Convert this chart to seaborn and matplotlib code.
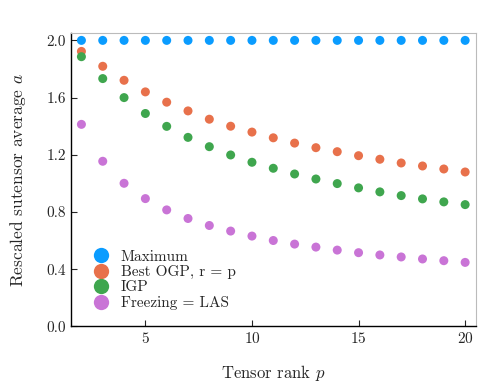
import numpy as np
import pandas as pd
import seaborn as sns
import matplotlib.pyplot as plt

# Tensor rank p
ranks = list(range(2, 21))

maximum = [2.0] * 19
best_ogp = [1.923, 1.819, 1.721, 1.640, 1.568, 1.507, 1.449, 1.400, 1.359, 1.319,
            1.282, 1.250, 1.222, 1.194, 1.169, 1.143, 1.122, 1.101, 1.080]
igp = [1.886, 1.733, 1.600, 1.489, 1.399, 1.322, 1.257, 1.199, 1.148, 1.106,
       1.066, 1.031, 0.999, 0.969, 0.941, 0.915, 0.892, 0.871, 0.852]
freezing = [1.413, 1.155, 1.001, 0.894, 0.815, 0.755, 0.706, 0.667, 0.632, 0.601,
            0.576, 0.555, 0.534, 0.516, 0.500, 0.486, 0.472, 0.460, 0.448]

series_names = ["Maximum", "Best OGP, r = p", "IGP", "Freezing = LAS"]
series_colors = ["#0a9cff", "#e8714b", "#3fa64e", "#c974d6"]

df = pd.DataFrame({
    "p": ranks * 4,
    "a": maximum + best_ogp + igp + freezing,
    "series": [n for n in series_names for _ in ranks],
})

sns.set_style("ticks")
plt.rcParams["font.family"] = "serif"
plt.rcParams["font.serif"] = ["cmr10", "DejaVu Serif"]
plt.rcParams["mathtext.fontset"] = "cm"
plt.rcParams["axes.formatter.use_mathtext"] = True

fig, ax = plt.subplots(figsize=(4.88, 3.91), dpi=100)
fig.subplots_adjust(left=0.145, right=0.975, top=0.915, bottom=0.165)

sns.scatterplot(data=df, x="p", y="a", hue="series", hue_order=series_names,
                palette=series_colors, s=42, linewidth=0, ax=ax)

ax.set_xlim(1.5, 20.5)
ax.set_ylim(0.0, 2.05)
ax.set_xticks([5, 10, 15, 20])
ax.set_yticks([0.0, 0.4, 0.8, 1.2, 1.6, 2.0])
ax.set_yticklabels(["0.0", "0.4", "0.8", "1.2", "1.6", "2.0"])
ax.set_xlabel("Tensor rank $p$", fontsize=12, labelpad=12)
ax.set_ylabel("Rescaled sutensor average $a$", fontsize=12.5, labelpad=13)
ax.tick_params(direction="in", labelsize=11, length=4, width=0.8)

for side in ["top", "right"]:
    ax.spines[side].set_color("#bbbbbb")
for side in ["left", "bottom"]:
    ax.spines[side].set_color("black")
    ax.spines[side].set_linewidth(1.0)

leg = ax.legend(loc="lower left", bbox_to_anchor=(0.01, 0.02), frameon=False,
                fontsize=11, markerscale=1.7, handletextpad=0.3,
                labelspacing=0.1, borderaxespad=0.3)

fig.savefig("out.png", dpi=100)
